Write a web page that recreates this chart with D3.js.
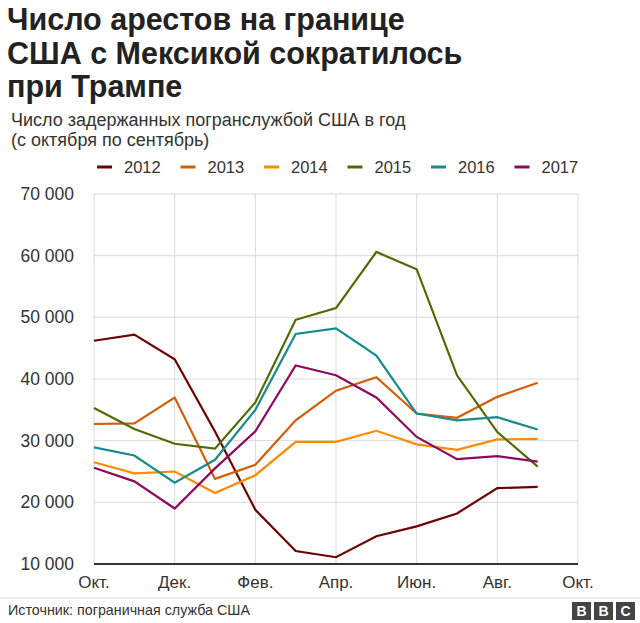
<!DOCTYPE html><html><head><meta charset="utf-8"><script src="https://d3js.org/d3.v7.min.js"></script>
<style>body{margin:0;background:#fff}text{font-family:Arial,"Liberation Sans",sans-serif}</style></head><body>
<svg id="c" width="640" height="623"></svg>
<script>
const years=["2012","2013","2014","2015","2016","2017"];
const colors=["#6e0000","#d35e07","#ff8a00","#4d6b00","#1a8a8c","#8c0b5f"];
const v2012=[46200,47200,43200,31500,18800,12100,11100,14500,16100,18200,22300,22500];
const v2013=[32700,32800,37000,23800,26100,33300,38100,40300,34400,33700,37100,39400];
const v2014=[26500,24700,25000,21500,24400,29800,29800,31600,29400,28500,30200,30300];
const v2015=[35300,31900,29500,28700,36200,49600,51500,60600,57800,40600,31400,25800];
const v2016=[28900,27600,23200,26900,35000,47300,48200,43800,34400,33300,33800,31800];
const v2017=[25600,23400,19000,25500,31500,42200,40600,37000,30600,27000,27500,26600];
const series=[v2012,v2013,v2014,v2015,v2016,v2017];
const xTicks=["Окт.","Дек.","Фев.","Апр.","Июн.","Авг.","Окт."];
const yTicks=[10000,20000,30000,40000,50000,60000,70000];
const svg=d3.select("#c");
const x=d3.scaleLinear().domain([0,12]).range([94,578]);
const y=d3.scaleLinear().domain([10000,70000]).range([564,194]);
["Число арестов на границе","США с Мексикой сократилось","при Трампе"].forEach((t,i)=>svg.append("text").attr("x",7).attr("y",30+i*33.5).attr("font-size",30.5).attr("font-weight","bold").attr("fill","#222").text(t));
["Число задержанных погранслужбой США в год","(с октября по сентябрь)"].forEach((t,i)=>svg.append("text").attr("x",11).attr("y",126+i*20).attr("font-size",18).attr("fill","#333").text(t));
years.forEach((yr,i)=>{const lx=97+i*83.5;svg.append("line").attr("x1",lx).attr("x2",lx+15).attr("y1",167).attr("y2",167).attr("stroke",colors[i]).attr("stroke-width",3);
svg.append("text").attr("x",lx+27).attr("y",173).attr("font-size",16.5).attr("fill","#333").text(yr);});
const fmt=d=>d3.format(",")(d).replace(","," ");
yTicks.forEach(t=>{svg.append("line").attr("x1",94).attr("x2",578).attr("y1",y(t)).attr("y2",y(t)).attr("stroke","#d9d9d9");
svg.append("text").attr("x",74).attr("y",y(t)+6).attr("text-anchor","end").attr("font-size",17.5).attr("fill","#333").text(fmt(t));});
xTicks.forEach((t,i)=>{svg.append("line").attr("x1",x(i*2)).attr("x2",x(i*2)).attr("y1",194).attr("y2",564).attr("stroke","#d9d9d9");
svg.append("text").attr("x",x(i*2)).attr("y",588).attr("text-anchor","middle").attr("font-size",17).attr("fill","#333").text(t);});
svg.append("line").attr("x1",94).attr("x2",578).attr("y1",564).attr("y2",564).attr("stroke","#333").attr("stroke-width",2);
const line=d3.line().x((d,i)=>x(i)).y(d=>y(d));
series.forEach((s,i)=>svg.append("path").attr("d",line(s)).attr("fill","none").attr("stroke",colors[i]).attr("stroke-width",2.2));
svg.append("line").attr("x1",0).attr("x2",640).attr("y1",598).attr("y2",598).attr("stroke","#ddd");
svg.append("text").attr("x",8).attr("y",615).attr("font-size",14.3).attr("fill","#333").text("Источник: пограничная служба США");
["B","B","C"].forEach((c,i)=>{const bx=572+i*22;svg.append("rect").attr("x",bx).attr("y",602).attr("width",19).attr("height",18).attr("fill","#444");
svg.append("text").attr("x",bx+9.5).attr("y",616).attr("text-anchor","middle").attr("font-size",14).attr("font-weight","bold").attr("fill","#fff").text(c);});
</script></body></html>
